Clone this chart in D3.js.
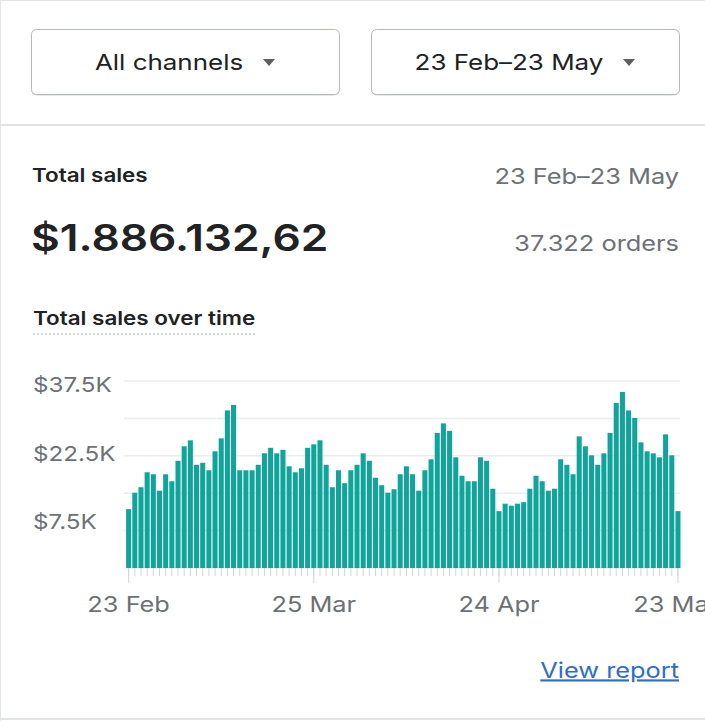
<!DOCTYPE html>
<html>
<head>
<meta charset="utf-8">
<script src="https://cdn.jsdelivr.net/npm/d3@7"></script>
<style>
  body { margin: 0; background: #fff; font-family: Inter, "Noto Sans", sans-serif; }
  svg text { font-family: Inter, "Noto Sans", sans-serif; }
</style>
</head>
<body>
<div id="card"></div>
<script>
const width = 705
const height = 721
const stretch = 1.18   // the original lettering is wider than Inter

// daily total sales, in thousands of dollars, 23 Feb .. 23 May
const sales = [
  11.8, 15.1, 16.2, 19.2, 18.8, 15.5, 18.8, 17.4, 21.5, 24.4,
  25.6, 20.7, 21.1, 19.6, 23.4, 26.0, 31.6, 32.7, 19.6, 19.6,
  19.6, 20.7, 23.0, 24.1, 23.0, 23.7, 20.4, 19.2, 20.0, 24.1,
  24.8, 25.6, 20.7, 16.2, 19.6, 17.0, 19.6, 20.7, 23.0, 21.5,
  18.1, 16.6, 15.1, 15.8, 18.8, 20.4, 18.8, 15.5, 19.6, 21.8,
  27.1, 29.0, 27.5, 22.2, 18.5, 17.4, 17.4, 22.2, 21.5, 15.9,
  11.4, 12.9, 12.5, 12.9, 13.2, 15.9, 18.5, 17.4, 15.5, 15.9,
  21.8, 20.7, 18.8, 26.4, 24.4, 22.6, 20.7, 23.0, 27.1, 33.1,
  35.3, 31.6, 30.1, 25.2, 23.4, 23.0, 22.2, 26.8, 22.6, 11.4
]
const startDate = new Date(2023, 1, 23)
const days = sales.map((v, i) => d3.timeDay.offset(startDate, i))
const labelDays = [0, 30, 60, 89]
const gridValues = [0, 7.5, 15, 22.5, 30, 37.5]
const yLabelValues = [37.5, 22.5, 7.5]

const buttonLabels = ["All channels", "23 Feb\u201323 May"]
const title = "Total sales"
const rangeText = "23 Feb\u201323 May"
const totalText = "$1.886.132,62"
const ordersText = "37.322 orders"
const chartTitle = "Total sales over time"
const linkText = "View report"

const grey = "#6d7175"
const dark = "#202223"
const teal = "#10a59a"

let svg = d3.select("#card")
    .append("svg")
    .attr("width", width)
    .attr("height", height)

// text drawn at (x, y), widened around its anchor
const label = (parent, x, y, txt, size, opts = {}) => {
    const t = parent.append("g")
        .attr("transform", `translate(${x},${y}) scale(${stretch},1)`)
        .append("text")
        .attr("text-anchor", opts.anchor || "start")
        .attr("dy", "0.35em")
        .style("font-size", size + "px")
        .style("font-weight", opts.weight || 400)
        .style("fill", opts.fill || dark)
        .text(txt)
    return t
}

// card borders
svg.append("line").attr("x1", 0.5).attr("x2", 0.5).attr("y1", 0).attr("y2", height)
    .style("stroke", "#e4e5e7")
svg.append("line").attr("x1", 0).attr("x2", width).attr("y1", 0.5).attr("y2", 0.5)
    .style("stroke", "#e4e5e7")
svg.append("line").attr("x1", 0).attr("x2", width).attr("y1", 125).attr("y2", 125)
    .style("stroke", "#e1e3e5").style("stroke-width", 2)
svg.append("line").attr("x1", 0).attr("x2", width).attr("y1", 719).attr("y2", 719)
    .style("stroke", "#e1e3e5").style("stroke-width", 2)

// dropdown buttons
const buttons = svg.selectAll("g.button")
    .data(buttonLabels)
    .join("g")
    .attr("class", "button")
    .attr("transform", (d, i) => `translate(${31 + i * 340},29)`)

buttons.append("rect")
    .attr("x", 0.5).attr("y", 1.5)
    .attr("width", 308).attr("height", 65)
    .attr("rx", 5)
    .style("fill", "#d2d5d8")
buttons.append("rect")
    .attr("x", 0.5).attr("y", 0.5)
    .attr("width", 308).attr("height", 65)
    .attr("rx", 5)
    .style("fill", "#fff")
    .style("stroke", "#b4b9be")

buttons.each(function (d, i) {
    label(d3.select(this), i == 0 ? 138 : 138, 33, d, 22, { anchor: "middle" })
})

buttons.append("path")
    .attr("d", (d, i) => {
        const cx = i == 0 ? 238 : 258
        return `M${cx - 6},30 L${cx + 6},30 L${cx},37 Z`
    })
    .style("fill", "#5c5f62")

// headline numbers
label(svg, 32, 175, title, 19, { weight: 600 })
label(svg, 679, 176, rangeText, 21.5, { anchor: "end", fill: grey })
label(svg, 31, 238, totalText, 37.5, { weight: 600 })
label(svg, 679, 243, ordersText, 21.5, { anchor: "end", fill: grey })

const ct = label(svg, 33, 318, chartTitle, 19, { weight: 600 })
const ctw = ct.node().getComputedTextLength() * stretch
svg.append("line")
    .attr("x1", 33).attr("x2", 33 + ctw)
    .attr("y1", 334).attr("y2", 334)
    .style("stroke", "#c4c8cc")
    .style("stroke-dasharray", "2,2")
    .style("stroke-width", 1.5)

// chart
const x = d3.scaleBand()
    .domain(days)
    .range([125, 681.6])
    .padding(0.18)

const y = d3.scaleLinear()
    .domain([0, 37.5])
    .range([568, 381])

// label positions drift slightly from the grid in the original
const yLabel = d3.scaleLinear()
    .domain([37.5, 7.5])
    .range([385, 522])

svg.append("g")
    .selectAll("line")
    .data(gridValues)
    .join("line")
    .attr("x1", 124).attr("x2", 680)
    .attr("y1", d => y(d)).attr("y2", d => y(d))
    .style("stroke", "#ececf0")
    .style("stroke-width", 1.5)

const yg = svg.append("g")
yLabelValues.forEach(v => label(yg, 33, yLabel(v), "$" + v + "K", 20.5, { fill: grey }))

svg.append("g")
    .selectAll("rect")
    .data(sales)
    .join("rect")
    .attr("x", (d, i) => x(days[i]))
    .attr("width", x.bandwidth())
    .attr("y", d => y(d))
    .attr("height", d => y(0) - y(d))
    .style("fill", teal)

// small ticks under every bar
const xAxis = svg.append("g")
    .attr("transform", `translate(0,${y(0)})`)
    .call(d3.axisBottom(x).tickSize(8).tickFormat(""))
xAxis.select(".domain").remove()
xAxis.selectAll(".tick line").style("stroke", "#d2d5d8")

// labelled ticks
const fmt = d3.timeFormat("%-d %b")
const xLabels = svg.append("g")
    .attr("transform", `translate(0,${y(0)})`)
    .call(d3.axisBottom(x).tickValues(labelDays.map(i => days[i])).tickSize(15).tickPadding(14).tickFormat(fmt))
xLabels.select(".domain").remove()
xLabels.selectAll(".tick line").style("stroke", "#d2d5d8")
xLabels.selectAll(".tick text")
    .attr("transform", `scale(${stretch},1)`)
    .style("font-size", "21.5px")
    .style("fill", grey)
    .style("font-family", "Inter, 'Noto Sans', sans-serif")

// link
label(svg, 679, 670, linkText, 21.5, { anchor: "end", fill: "#2c6ecb" })
    .style("text-decoration", "underline")
</script>
</body>
</html>
